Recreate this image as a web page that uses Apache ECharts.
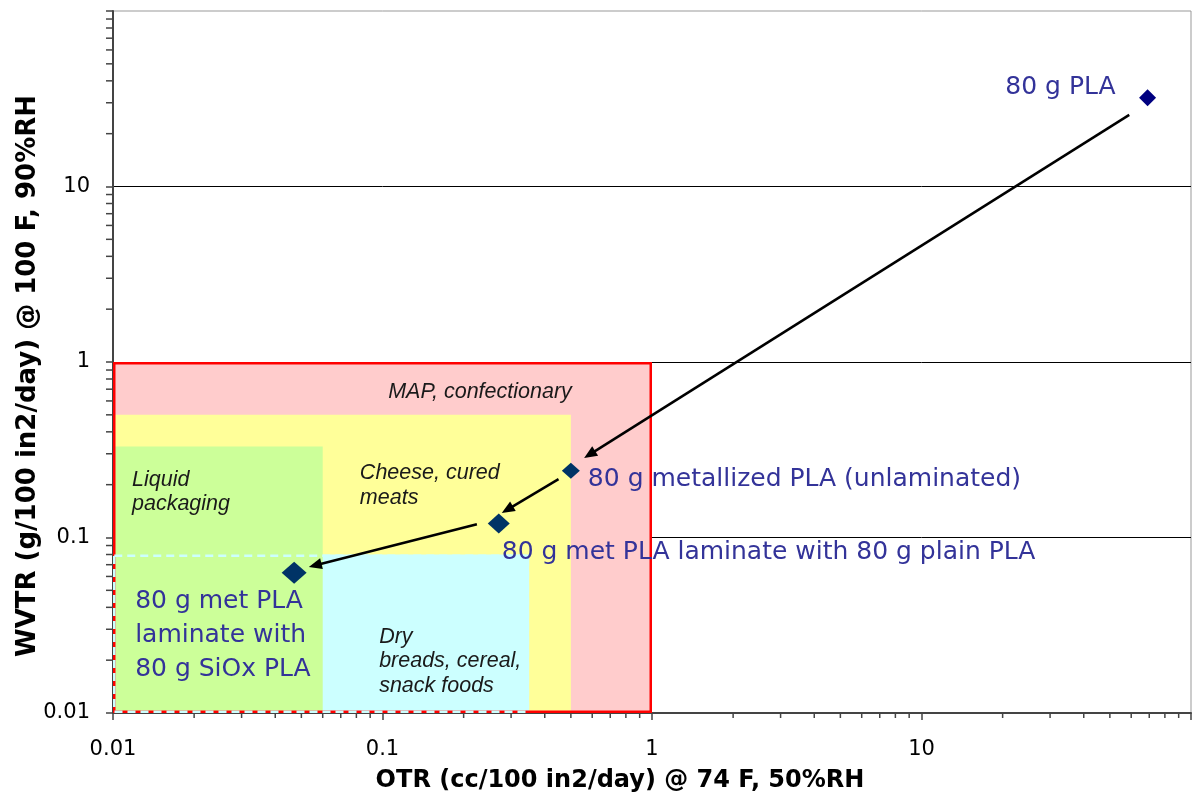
<!DOCTYPE html>
<html>
<head>
<meta charset="utf-8">
<script src="https://cdn.jsdelivr.net/npm/echarts@6/dist/echarts.min.js"></script>
<style>
  html, body { margin: 0; padding: 0; background: #ffffff; }
  #chart { width: 1193px; height: 799px; }
</style>
</head>
<body>
<div id="chart"></div>
<script>
// Barrier performance of PLA films: oxygen vs water-vapour transmission, log–log

// Axis decades
const otrTicks = [0.01, 0.1, 1, 10, 100];
const wvtrTicks = [0.01, 0.1, 1, 10, 100];

// Application target zones (upper limits of OTR / WVTR)
const regionNames = ['MAP, confectionary', 'Cheese, cured\nmeats', 'Dry\nbreads, cereal,\nsnack foods', 'Liquid\npackaging'];
const regionOtrMin = [0.01, 0.01, 0.01, 0.01];
const regionOtrMax = [1, 0.5, 0.35, 0.06];
const regionWvtrMin = [0.01, 0.01, 0.01, 0.01];
const regionWvtrMax = [1, 0.5, 0.08, 0.33];

// Film samples
const sampleNames = [
  '80 g PLA',
  '80 g metallized PLA (unlaminated)',
  '80 g met PLA laminate with 80 g plain PLA',
  '80 g met PLA\nlaminate with\n80 g SiOx PLA'
];
const sampleOtr = [69, 0.5, 0.27, 0.047];
const sampleWvtr = [32, 0.24, 0.12, 0.063];

// Improvement arrows between successive samples
const arrowFromOtr = [59, 0.45, 0.224];
const arrowFromWvtr = [25.6, 0.215, 0.119];
const arrowToOtr = [0.56, 0.277, 0.0533];
const arrowToWvtr = [0.284, 0.138, 0.068];

// ---- styling ----
const regionFill = ['#ffcccc', '#ffff99', '#ccffff', '#ccff99'];
const regionBorder = [
  { stroke: '#ff0000', lineWidth: 2.5, lineDash: null },
  null,
  { stroke: '#ccffff', lineWidth: 2.5, lineDash: [8, 5] },
  null
];
// label anchor: corner of the zone ('tl' or 'tr') plus pixel offset
const regionLabelPlace = [
  { corner: 'tr', dx: -172, dy: 30, align: 'center', vAlign: 'middle' },
  { corner: 'tr', dx: -211, dy: 46, align: 'left', vAlign: 'top' },
  { corner: 'tr', dx: -150, dy: 70, align: 'left', vAlign: 'top' },
  { corner: 'tl', dx: 19, dy: 21, align: 'left', vAlign: 'top' }
];
const sampleColor = ['#000080', '#003366', '#003366', '#003366'];
const sampleSize = [[17, 17], [18, 16], [22, 20], [25, 22]];
const sampleLabelPlace = [
  { dx: -32, dy: -10, align: 'right', vAlign: 'middle' },
  { dx: 17, dy: 9, align: 'left', vAlign: 'middle' },
  { dx: 3, dy: 29, align: 'left', vAlign: 'middle' },
  { dx: -159, dy: 12, align: 'left', vAlign: 'top' }
];

const AXIS_COLOR = '#444444';
const axisMin = otrTicks[0], axisMax = otrTicks[otrTicks.length - 1];
const yMin = wvtrTicks[0], yMax = wvtrTicks[wvtrTicks.length - 1];

function tickLabel(v) {
  if (v >= 100) return '';
  return String(Number(Number(v).toPrecision(2)));
}

// minor tick values 2..9 within each decade
function minorValues(ticks) {
  const out = [];
  for (let i = 0; i < ticks.length - 1; i++) {
    for (let k = 2; k <= 9; k++) out.push(k * ticks[i]);
  }
  return out;
}

const regionData = regionNames.map((n, i) => [regionOtrMin[i], regionWvtrMin[i], regionOtrMax[i], regionWvtrMax[i]]);
const sampleData = sampleNames.map((n, i) => ({
  value: [sampleOtr[i], sampleWvtr[i]],
  symbolSize: sampleSize[i],
  itemStyle: { color: sampleColor[i], opacity: 1 }
}));
const arrowData = arrowFromOtr.map((v, i) => [v, arrowFromWvtr[i], arrowToOtr[i], arrowToWvtr[i]]);

const chart = echarts.init(document.getElementById('chart'), null, { renderer: 'canvas' });

function zoneRect(api) {
  const p0 = api.coord([api.value(0), api.value(1)]);
  const p1 = api.coord([api.value(2), api.value(3)]);
  return {
    x: Math.min(p0[0], p1[0]), y: Math.min(p0[1], p1[1]),
    width: Math.abs(p1[0] - p0[0]), height: Math.abs(p1[1] - p0[1])
  };
}

const tickFont = { fontFamily: 'DejaVu Sans', fontSize: 21, color: '#000' };

const option = {
  animation: false,
  backgroundColor: '#ffffff',
  grid: {
    left: 113, right: 2, top: 11, bottom: 86,
    show: true, borderColor: '#999999', borderWidth: 1, backgroundColor: 'transparent',
    outerBoundsMode: 'none'
  },
  xAxis: {
    type: 'log', logBase: 10, min: axisMin, max: axisMax,
    axisLine: { lineStyle: { color: AXIS_COLOR, width: 2 } },
    axisTick: { length: 7, lineStyle: { color: AXIS_COLOR, width: 1.5 } },
    axisLabel: Object.assign({ margin: 26, formatter: tickLabel }, tickFont),
    splitLine: { show: false }
  },
  yAxis: {
    type: 'log', logBase: 10, min: yMin, max: yMax,
    axisLine: { lineStyle: { color: AXIS_COLOR, width: 2 } },
    axisTick: { length: 7, lineStyle: { color: AXIS_COLOR, width: 1.5 } },
    axisLabel: Object.assign({ margin: 23, formatter: tickLabel }, tickFont),
    splitLine: { show: true, showMinLine: false, showMaxLine: false, lineStyle: { color: '#000', width: 1 } }
  },
  graphic: [
    {
      type: 'text', x: 620, y: 781,
      style: { text: 'OTR (cc/100 in2/day) @ 74 F, 50%RH', font: 'bold 24px "DejaVu Sans"', fill: '#000', align: 'center', verticalAlign: 'middle' }
    },
    {
      type: 'text', x: 28, y: 376, rotation: Math.PI / 2,
      style: { text: 'WVTR (g/100 in2/day) @ 100 F, 90%RH', font: 'bold 26px "DejaVu Sans"', fill: '#000', align: 'center', verticalAlign: 'middle' }
    }
  ],
  series: [
    {
      // zone fills
      type: 'custom', name: 'zones', z: 1, silent: true,
      data: regionData,
      encode: { x: [0, 2], y: [1, 3] },
      renderItem: function (params, api) {
        const r = zoneRect(api);
        return { type: 'rect', shape: r, style: { fill: regionFill[params.dataIndex], stroke: null } };
      }
    },
    {
      // zone outlines
      type: 'custom', name: 'zoneBorders', z: 2, silent: true,
      data: regionData,
      encode: { x: [0, 2], y: [1, 3] },
      renderItem: function (params, api) {
        const b = regionBorder[params.dataIndex];
        if (!b) return null;
        const r = zoneRect(api);
        const h = b.lineWidth / 2;
        return {
          type: 'rect',
          shape: { x: r.x + h, y: r.y + h, width: r.width - 2 * h, height: r.height - 2 * h },
          style: { fill: null, stroke: b.stroke, lineWidth: b.lineWidth, lineDash: b.lineDash }
        };
      }
    },
    {
      // zone captions
      type: 'custom', name: 'zoneLabels', z: 3, silent: true,
      data: regionData,
      encode: { x: [0, 2], y: [1, 3] },
      renderItem: function (params, api) {
        const i = params.dataIndex;
        const r = zoneRect(api);
        const pl = regionLabelPlace[i];
        const ax = pl.corner === 'tr' ? r.x + r.width : r.x;
        return {
          type: 'text',
          style: {
            text: regionNames[i], x: ax + pl.dx, y: r.y + pl.dy,
            font: 'italic 21.5px "Liberation Sans", Arial, sans-serif', fill: '#1a1a1a',
            align: pl.align, verticalAlign: pl.vAlign, lineHeight: 24.5
          }
        };
      }
    },
    {
      // minor ticks on the OTR axis
      type: 'custom', name: 'xMinor', z: 3, silent: true,
      data: minorValues(otrTicks).map(v => [v, yMin]),
      renderItem: function (params, api) {
        const p = api.coord([api.value(0), yMin]);
        return { type: 'line', shape: { x1: p[0], y1: p[1], x2: p[0], y2: p[1] + 5 }, style: { stroke: AXIS_COLOR, lineWidth: 1.5 } };
      }
    },
    {
      // minor ticks on the WVTR axis
      type: 'custom', name: 'yMinor', z: 3, silent: true,
      data: minorValues(wvtrTicks).map(v => [axisMin, v]),
      renderItem: function (params, api) {
        const p = api.coord([axisMin, api.value(1)]);
        return { type: 'line', shape: { x1: p[0] - 7, y1: p[1], x2: p[0], y2: p[1] }, style: { stroke: AXIS_COLOR, lineWidth: 1.5 } };
      }
    },
    {
      // arrows
      type: 'custom', name: 'arrows', z: 4, silent: true,
      data: arrowData,
      encode: { x: [0, 2], y: [1, 3] },
      renderItem: function (params, api) {
        const a = api.coord([api.value(0), api.value(1)]);
        const b = api.coord([api.value(2), api.value(3)]);
        const dx = b[0] - a[0], dy = b[1] - a[1];
        const len = Math.sqrt(dx * dx + dy * dy);
        const ux = dx / len, uy = dy / len;
        const hl = 13, hw = 5.5;
        const bx = b[0] - ux * hl, by = b[1] - uy * hl;
        return {
          type: 'group',
          children: [
            { type: 'line', shape: { x1: a[0], y1: a[1], x2: bx + ux * 2, y2: by + uy * 2 }, style: { stroke: '#000', lineWidth: 2.5 } },
            {
              type: 'polygon',
              shape: { points: [[b[0], b[1]], [bx - uy * hw, by + ux * hw], [bx + uy * hw, by - ux * hw]] },
              style: { fill: '#000' }
            }
          ]
        };
      }
    },
    {
      type: 'scatter', name: 'samples', z: 5, silent: true,
      symbol: 'diamond',
      itemStyle: { opacity: 1 },
      data: sampleData
    },
    {
      // sample captions
      type: 'custom', name: 'sampleLabels', z: 6, silent: true,
      data: sampleOtr.map((v, i) => [v, sampleWvtr[i]]),
      renderItem: function (params, api) {
        const i = params.dataIndex;
        const p = api.coord([api.value(0), api.value(1)]);
        const pl = sampleLabelPlace[i];
        return {
          type: 'text',
          style: {
            text: sampleNames[i], x: p[0] + pl.dx, y: p[1] + pl.dy,
            font: '25px "DejaVu Sans", sans-serif', fill: '#333399',
            align: pl.align, verticalAlign: pl.vAlign, lineHeight: 34
          }
        };
      }
    }
  ]
};

chart.setOption(option);
</script>
</body>
</html>
